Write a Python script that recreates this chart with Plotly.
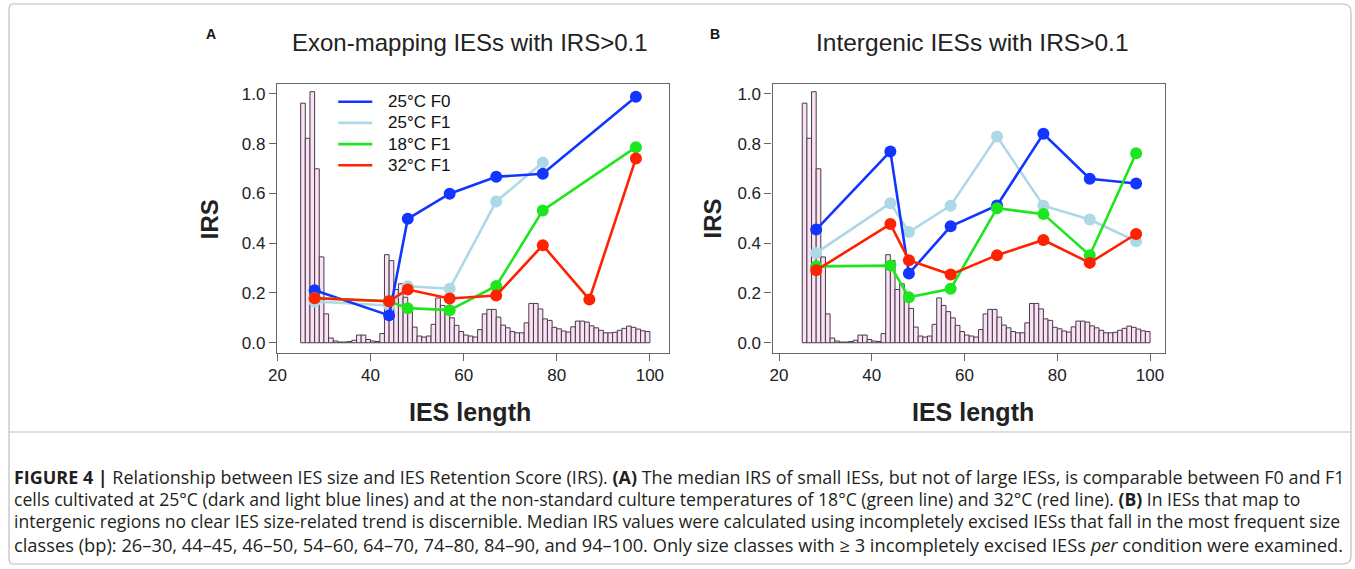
import plotly.graph_objects as go

W, H = 1355, 569

# ---------------- data ----------------
size_class_x = [28, 44, 48, 57, 67, 77, 87, 97]

hist_bin_left = list(range(25, 100))
hist_height = [
    0.963, 0.822, 1.009, 0.699, 0.345, 0.116, 0.019, 0.007, 0.003, 0.003,
    0.005, 0.010, 0.031, 0.031, 0.013, 0.007, 0.005, 0.037, 0.354, 0.330,
    0.214, 0.237, 0.183, 0.138, 0.063, 0.027, 0.023, 0.027, 0.074, 0.180,
    0.150, 0.125, 0.100, 0.070, 0.045, 0.031, 0.027, 0.023, 0.053, 0.116,
    0.134, 0.134, 0.103, 0.071, 0.060, 0.045, 0.040, 0.040, 0.080, 0.158,
    0.158, 0.136, 0.096, 0.090, 0.062, 0.056, 0.047, 0.043, 0.064, 0.087,
    0.087, 0.083, 0.068, 0.060, 0.050, 0.040, 0.040, 0.042, 0.050, 0.058,
    0.067, 0.062, 0.055, 0.048, 0.045,
]

series_names = ["25°C F0", "25°C F1", "18°C F1", "32°C F1"]
series_colors = ["#1236FF", "#ADD8E6", "#1EE61E", "#FF2200"]

# Panel A: exon-mapping IESs
exon_25F0 = [0.211, 0.110, 0.498, 0.599, 0.667, 0.679, None, 0.989]
exon_25F1 = [0.166, 0.150, 0.227, 0.217, 0.568, 0.724, None, None]
exon_18F1 = [0.180, 0.167, 0.139, 0.131, 0.228, 0.532, None, 0.786]
exon_32F1 = [0.179, 0.167, 0.214, 0.178, 0.190, 0.392, 0.174, 0.741]

# Panel B: intergenic IESs
inter_25F0 = [0.455, 0.769, 0.278, 0.468, 0.552, 0.840, 0.659, 0.640]
inter_25F1 = [0.361, 0.561, 0.445, 0.551, 0.829, 0.551, 0.495, 0.408]
inter_18F1 = [0.307, 0.310, 0.183, 0.217, 0.541, 0.517, 0.352, 0.762]
inter_32F1 = [0.291, 0.477, 0.332, 0.274, 0.352, 0.413, 0.321, 0.437]

y_ticks = [0.0, 0.2, 0.4, 0.6, 0.8, 1.0]
x_ticks = [20, 40, 60, 80, 100]

panel_titles = ["Exon-mapping IESs with IRS>0.1", "Intergenic IESs with IRS>0.1"]
panel_letters = ["A", "B"]

caption_lines = [
    "<b>FIGURE 4 |</b> Relationship between IES size and IES Retention Score (IRS). <b>(A)</b> The median IRS of small IESs, but not of large IESs, is comparable between F0 and F1",
    "cells cultivated at 25°C (dark and light blue lines) and at the non-standard culture temperatures of 18°C (green line) and 32°C (red line). <b>(B)</b> In IESs that map to",
    "intergenic regions no clear IES size-related trend is discernible. Median IRS values were calculated using incompletely excised IESs that fall in the most frequent size",
    "classes (bp): 26–30, 44–45, 46–50, 54–60, 64–70, 74–80, 84–90, and 94–100. Only size classes with ≥ 3 incompletely excised IESs <i>per</i> condition were examined.",
]

# ---------------- helpers ----------------
# horizontal pixel positions are given in reference-image pixels; the
# photographed page shows x' = 9 + 0.9926 * x, so invert that here.
def fx(p):
    return max(0.0, (p - 9.0) / 0.9926) / W

def fy(p):
    return 1 - p / H

FONT = "Liberation Sans, Arial, sans-serif"

fig = go.Figure()

panels = [
    dict(xa="x", ya="y", data=[exon_25F0, exon_25F1, exon_18F1, exon_32F1]),
    dict(xa="x2", ya="y2", data=[inter_25F0, inter_25F1, inter_18F1, inter_32F1]),
]

draw_order = [1, 0, 2, 3]  # light blue, blue, green, red

for p in panels:
    fig.add_trace(go.Bar(
        x=[b + 0.5 for b in hist_bin_left], y=hist_height, width=1,
        marker=dict(color="#F8E2F3", line=dict(color="#4A3A48", width=1)),
        xaxis=p["xa"], yaxis=p["ya"], showlegend=False, hoverinfo="skip",
    ))
    for i in draw_order:
        fig.add_trace(go.Scatter(
            x=size_class_x, y=p["data"][i], mode="lines+markers",
            connectgaps=True,
            line=dict(color=series_colors[i], width=2.6),
            marker=dict(color=series_colors[i], size=12),
            xaxis=p["xa"], yaxis=p["ya"], showlegend=False,
            name=series_names[i],
        ))

axis_common = dict(
    showline=True, mirror=True, linecolor="#666666", linewidth=1.3,
    ticks="outside", ticklen=7, tickwidth=1.2, tickcolor="#666666",
    tickfont=dict(family=FONT, size=17, color="#222222"),
    showgrid=False, zeroline=False, fixedrange=True,
)

yd = [fy(352.7), fy(84)]
fig.update_layout(
    width=W, height=H,
    margin=dict(l=0, r=0, t=0, b=0),
    paper_bgcolor="white", plot_bgcolor="white",
    barmode="overlay",
    xaxis=dict(domain=[fx(276.7), fx(668)], range=[19.9, 104.0], anchor="y",
               tickvals=x_ticks, **axis_common),
    yaxis=dict(domain=yd, range=[-0.04, 1.04], anchor="x",
               tickvals=y_ticks, tickformat=".1f", **axis_common),
    xaxis2=dict(domain=[fx(772), fx(1164)], range=[18.6, 103.2], anchor="y2",
                tickvals=x_ticks, **axis_common),
    yaxis2=dict(domain=yd, range=[-0.04, 1.04], anchor="x2",
                tickvals=y_ticks, tickformat=".1f", **axis_common),
    showlegend=False,
    font=dict(family=FONT),
)

annotations = []
shapes = []

# panel A legend (line samples + labels)
legend_rows_y = [101.7, 122.9, 144.1, 165.3]
for i in range(4):
    shapes.append(dict(type="line", xref="paper", yref="paper",
                       x0=fx(338), x1=fx(372), y0=fy(legend_rows_y[i]), y1=fy(legend_rows_y[i]),
                       line=dict(color=series_colors[i], width=2.6)))
    annotations.append(dict(
        x=fx(386), y=fy(legend_rows_y[i]), xref="paper", yref="paper",
        text=series_names[i], showarrow=False, xanchor="left", yanchor="middle",
        font=dict(family=FONT, size=17, color="#111111"),
    ))

centers = [470, 972]
title_sizes = [24, 24.5]
for k in range(2):
    annotations.append(dict(
        x=fx(centers[k]), y=fy(42.5), xref="paper", yref="paper",
        text=panel_titles[k], showarrow=False, xanchor="center", yanchor="middle",
        font=dict(family=FONT, size=title_sizes[k], color="#222222"),
    ))
    annotations.append(dict(
        x=fx([211, 714][k]), y=fy(34), xref="paper", yref="paper",
        text="<b>" + panel_letters[k] + "</b>", showarrow=False,
        xanchor="center", yanchor="middle",
        font=dict(family=FONT, size=14, color="#111111"),
    ))
    annotations.append(dict(
        x=fx([209, 711][k]), y=fy(219), xref="paper", yref="paper",
        text="<b>IRS</b>", showarrow=False, textangle=-90,
        xanchor="center", yanchor="middle",
        font=dict(family=FONT, size=24, color="#222222"),
    ))
    annotations.append(dict(
        x=fx([470, 972][k]), y=fy(412), xref="paper", yref="paper",
        text="<b>IES length</b>", showarrow=False,
        xanchor="center", yanchor="middle",
        font=dict(family=FONT, size=25, color="#222222"),
    ))

caption_y = [477, 499, 521, 544]
caption_sizes = [17.95, 17.6, 17.5, 18.3]
for line, yy, fs in zip(caption_lines, caption_y, caption_sizes):
    annotations.append(dict(
        x=fx(12), y=fy(yy), xref="paper", yref="paper", text=line,
        showarrow=False, xanchor="left", yanchor="middle", align="left",
        font=dict(family="Open Sans, sans-serif", size=fs, color="#231F20"),
    ))

# outer rounded frame and separator
L, T, R, B, r = 4, 4, 1350, 564, 8
path = (
    f"M {fx(L + r)},{fy(T)} L {fx(R - r)},{fy(T)} Q {fx(R)},{fy(T)} {fx(R)},{fy(T + r)} "
    f"L {fx(R)},{fy(B - r)} Q {fx(R)},{fy(B)} {fx(R - r)},{fy(B)} "
    f"L {fx(L + r)},{fy(B)} Q {fx(L)},{fy(B)} {fx(L)},{fy(B - r)} "
    f"L {fx(L)},{fy(T + r)} Q {fx(L)},{fy(T)} {fx(L + r)},{fy(T)} Z"
)
shapes.append(dict(type="path", path=path, xref="paper", yref="paper",
                   line=dict(color="#BDBDBD", width=1.2), layer="below"))
shapes.append(dict(type="line", x0=fx(L), x1=fx(R), y0=fy(432), y1=fy(432),
                   xref="paper", yref="paper", line=dict(color="#BDBDBD", width=1.2),
                   layer="below"))

fig.update_layout(annotations=annotations, shapes=shapes)

fig.write_html(
    "out.html",
    config={"displayModeBar": False},
    post_script="document.body.style.margin='0px';document.body.style.padding='0px';"
                "document.documentElement.style.overflow='hidden';",
)
